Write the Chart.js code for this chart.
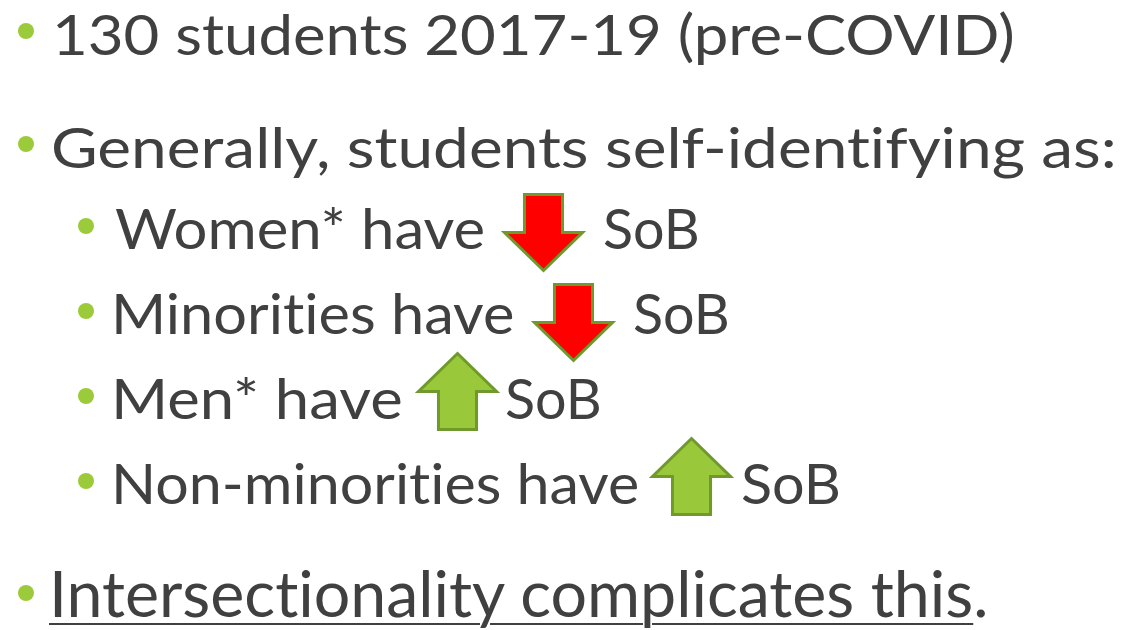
<!DOCTYPE html>
<html>
<head>
<meta charset="utf-8">
<script src="https://cdn.jsdelivr.net/npm/chart.js@4.4.1/dist/chart.umd.min.js"></script>
<style>
body { margin: 0; background: #fff; }
#slide { position: relative; width: 1127px; height: 630px; overflow: hidden; font-family: Lato, 'Open Sans', sans-serif; color: #404040; font-variant-ligatures: none; font-feature-settings: "liga" 0, "clig" 0; }
.txt { position: absolute; left: 0; top: 0; white-space: nowrap; line-height: 1; transform-origin: 0 0; }
.txt.last { line-height: 0.8; }
.dot { position: absolute; width: 16px; height: 16px; border-radius: 50%; background: #9bcb3b; }
.arrow { position: absolute; }
u { text-decoration-thickness: 2px; text-underline-offset: 6px; }
</style>
</head>
<body>
<div id="slide"></div>
<script>
// slide content
var headLines = ['130 students 2017-19 (pre-COVID)', 'Generally, students self-identifying as:'];
var groups = ['Women*', 'Minorities', 'Men*', 'Non-minorities'];
var sobDirection = [-1, -1, 1, 1]; // -1 = lower sense of belonging, +1 = higher
var measureLabel = 'SoB';
var closingLine = 'Intersectionality complicates this';

// layout (ink left/right and baselines)
var headLayout = [{ ink: [56, 1012], baseline: 55 }, { ink: [53, 1114], baseline: 168 }];
var rowBaseline = [249, 334, 419, 504];
var rowTextInk = [[115, 483], [116, 513], [116, 400], [116, 638]];
var rowArrowBox = [[503, 193], [533, 283], [417, 352], [651, 437]];
var rowSobInk = [[604, 697], [634, 727], [506, 599], [742, 838]];
var closingLayout = { ink: [54, 988], baseline: 617 };

var slide = document.getElementById('slide');
var measureCtx = document.createElement('canvas').getContext('2d');
var placed = [];

function addText(html, plain, size, ink, baseline, cls) {
    var el = document.createElement('div');
    el.className = 'txt' + (cls ? ' ' + cls : '');
    el.style.fontSize = size + 'px';
    el.innerHTML = html;
    slide.appendChild(el);
    placed.push({ el: el, plain: plain, size: size, ink: ink, baseline: baseline });
}

function addDot(cx, cy) {
    var d = document.createElement('div');
    d.className = 'dot';
    d.style.left = (cx - 8) + 'px';
    d.style.top = (cy - 8) + 'px';
    slide.appendChild(d);
}

function layoutText() {
    placed.forEach(function (p) {
        var el = p.el;
        el.style.transform = 'none';
        el.style.top = '0px';
        var probe = el.querySelector('.probe');
        if (!probe) {
            probe = document.createElement('span');
            probe.className = 'probe';
            probe.style.cssText = 'display:inline-block;width:0;height:0;';
            el.appendChild(probe);
        }
        var off = probe.getBoundingClientRect().bottom - el.getBoundingClientRect().top;
        el.style.top = (p.baseline - off) + 'px';
        measureCtx.font = p.size + 'px Lato';
        var m = measureCtx.measureText(p.plain);
        var inkW = m.actualBoundingBoxRight + m.actualBoundingBoxLeft;
        var s = (p.ink[1] - p.ink[0]) / inkW;
        el.style.left = (p.ink[0] + s * m.actualBoundingBoxLeft) + 'px';
        el.style.transform = 'scaleX(' + s + ')';
    });
}

// the bar is the arrow head; the shaft mirrors it on the other side of zero
var arrowShape = {
    id: 'arrowShape',
    afterDatasetsDraw: function (chart) {
        var ctx = chart.ctx;
        chart.getDatasetMeta(0).data.forEach(function (bar, i) {
            var p = bar.getProps(['x', 'y', 'base', 'width'], true);
            var v = chart.data.datasets[0].data[i];
            var dir = p.y < p.base ? -1 : 1;
            var half = p.width / 2 - 1.5;
            var shaft = p.width * 0.235;
            var tip = p.y - dir * 1.5;
            var tail = 2 * p.base - p.y + dir * 1.5;
            ctx.save();
            ctx.beginPath();
            ctx.moveTo(p.x, tip);
            ctx.lineTo(p.x + half, p.base);
            ctx.lineTo(p.x + shaft, p.base);
            ctx.lineTo(p.x + shaft, tail);
            ctx.lineTo(p.x - shaft, tail);
            ctx.lineTo(p.x - shaft, p.base);
            ctx.lineTo(p.x - half, p.base);
            ctx.closePath();
            ctx.fillStyle = v < 0 ? '#ff0000' : '#99c93b';
            ctx.fill();
            ctx.lineWidth = 3;
            ctx.lineJoin = 'miter';
            ctx.strokeStyle = '#6f9a2b';
            ctx.stroke();
            ctx.restore();
        });
    }
};

function addArrow(i) {
    var c = document.createElement('canvas');
    c.className = 'arrow';
    c.width = 87;
    c.height = 85;
    c.style.left = (rowArrowBox[i][0] - 3) + 'px';
    c.style.top = (rowArrowBox[i][1] - 3) + 'px';
    slide.appendChild(c);
    new Chart(c, {
        type: 'bar',
        data: {
            labels: [groups[i]],
            datasets: [{ data: [sobDirection[i]], backgroundColor: 'rgba(0,0,0,0)', borderWidth: 0, categoryPercentage: 1, barPercentage: 1 }]
        },
        options: {
            responsive: false,
            animation: false,
            events: [],
            devicePixelRatio: 1,
            layout: { padding: 3 },
            plugins: { legend: { display: false }, tooltip: { enabled: false } },
            scales: { x: { display: false }, y: { display: false, min: -1, max: 1 } }
        },
        plugins: [arrowShape]
    });
}

headLines.forEach(function (line, i) {
    addDot(25.5, headLayout[i].baseline - 24);
    addText(line, line, 57, headLayout[i].ink, headLayout[i].baseline);
});

groups.forEach(function (g, i) {
    addDot(86, rowBaseline[i] - 23);
    addText(g + ' have', g + ' have', 57, rowTextInk[i], rowBaseline[i]);
    addArrow(i);
    addText(measureLabel, measureLabel, 57, rowSobInk[i], rowBaseline[i]);
});

addDot(25.5, closingLayout.baseline - 24);
addText('<u>' + closingLine + '</u>.', closingLine + '.', 64, closingLayout.ink, closingLayout.baseline, 'last');

layoutText();
if (document.fonts) document.fonts.ready.then(layoutText);
</script>
</body>
</html>
